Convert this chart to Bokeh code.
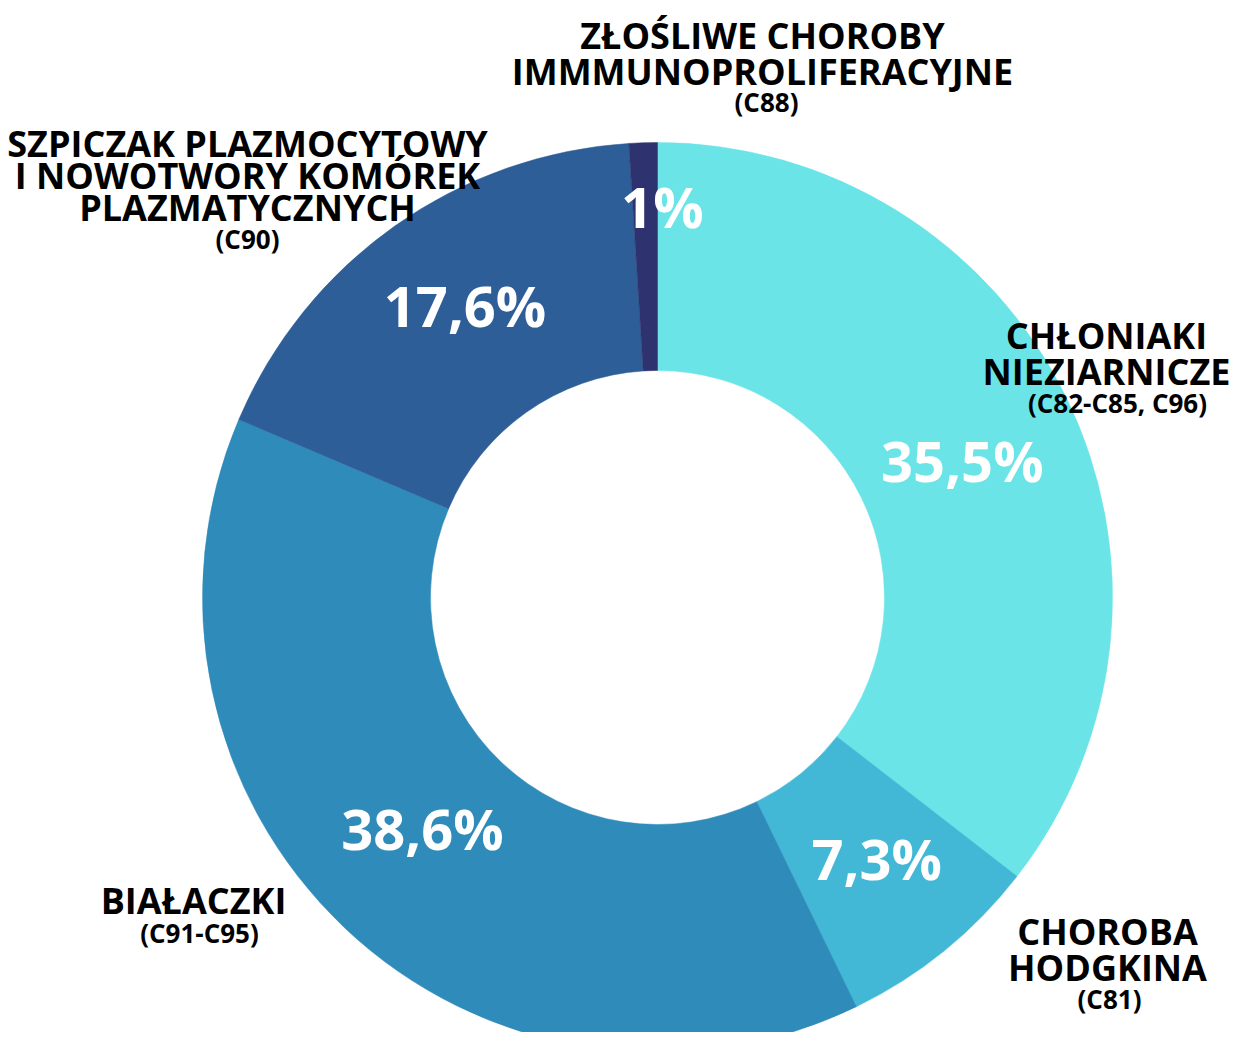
import numpy as np
from bokeh.plotting import figure
from bokeh.models import Range1d
from bokeh.core.properties import value
from bokeh.embed import file_html
from bokeh.resources import INLINE

# ---- data ----
categories = ["Chłoniaki nieziarnicze", "Choroba Hodgkina", "Białaczki",
              "Szpiczak plazmocytowy i nowotwory komórek plazmatycznych",
              "Złośliwe choroby immunoproliferacyjne"]
shares = [35.5, 7.3, 38.6, 17.6, 1.0]
share_labels = ["35,5%", "7,3%", "38,6%", "17,6%", "1%"]
colors = ["#6BE4E8", "#42B8D6", "#2E8BBA", "#2E5E98", "#2E3370"]
name_lines = [["CHŁONIAKI", "NIEZIARNICZE"],
              ["CHOROBA", "HODGKINA"],
              ["BIAŁACZKI"],
              ["SZPICZAK PLAZMOCYTOWY", "I NOWOTWORY KOMÓREK", "PLAZMATYCZNYCH"],
              ["ZŁOŚLIWE CHOROBY", "IMMMUNOPROLIFERACYJNE"]]
codes = ["(C82-C85, C96)", "(C81)", "(C91-C95)", "(C90)", "(C88)"]

# ---- layout (pixel space, y downwards -> negated) ----
CX, CY = 657, 597
R_OUT, R_IN = 455, 227
FONT = "Open Sans"

# label anchors: centre x, first line centre y, line spacing, code centre y, code centre x
name_pos = [(1106, 335, 35.5, 402, 1117),
            (1107, 931, 36, 998, 1109),
            (193, 900, 36, 932, 199),
            (247, 143, 32, 238, 247),
            (762, 35, 35.5, 101, 766)]
pct_r = [335, 343, 331, 347, 387]
pct_dx = [4, 3, -7, 8, 17]
pct_dy = [10, -6, -9, -9, -5]

W, H = 1229, 1032
p = figure(width=W, height=H, output_backend="svg", toolbar_location=None,
           x_range=Range1d(0, W), y_range=Range1d(-H, 0),
           min_border=0, outline_line_color=None, background_fill_color="white")
p.axis.visible = False
p.grid.visible = False

vals = np.array(shares, dtype=float)
frac = vals / vals.sum() * 360.0
cum_end = np.cumsum(frac)
cum_start = cum_end - frac
start_ang = np.deg2rad(90 - cum_end)
end_ang = np.deg2rad(90 - cum_start)

p.annular_wedge(x=CX, y=-CY, inner_radius=R_IN, outer_radius=R_OUT,
                start_angle=list(start_ang), end_angle=list(end_ang),
                direction="anticlock",
                fill_color=colors, line_color=colors, line_width=0.5)

mid = np.deg2rad((cum_start + cum_end) / 2)
px = CX + np.array(pct_r) * np.sin(mid) + np.array(pct_dx)
py = CY - np.array(pct_r) * np.cos(mid) + np.array(pct_dy)
p.text(x=list(px), y=list(-py), text=share_labels, text_color="white",
       text_font=value(FONT), text_font_style="bold", text_font_size="56px",
       text_align="center", text_baseline="middle")

for lines, code, (cx, cy, sp, ccy, ccx) in zip(name_lines, codes, name_pos):
    ys = [-(cy + i * sp) for i in range(len(lines))]
    p.text(x=[cx] * len(lines), y=ys, text=lines, text_color="black",
           text_font=value(FONT), text_font_style="bold", text_font_size="36px",
           text_align="center", text_baseline="middle")
    p.text(x=[ccx], y=[-ccy], text=[code], text_color="black",
           text_font=value(FONT), text_font_style="bold", text_font_size="26px",
           text_align="center", text_baseline="middle")

open("out.html", "w").write(file_html(p, INLINE))
